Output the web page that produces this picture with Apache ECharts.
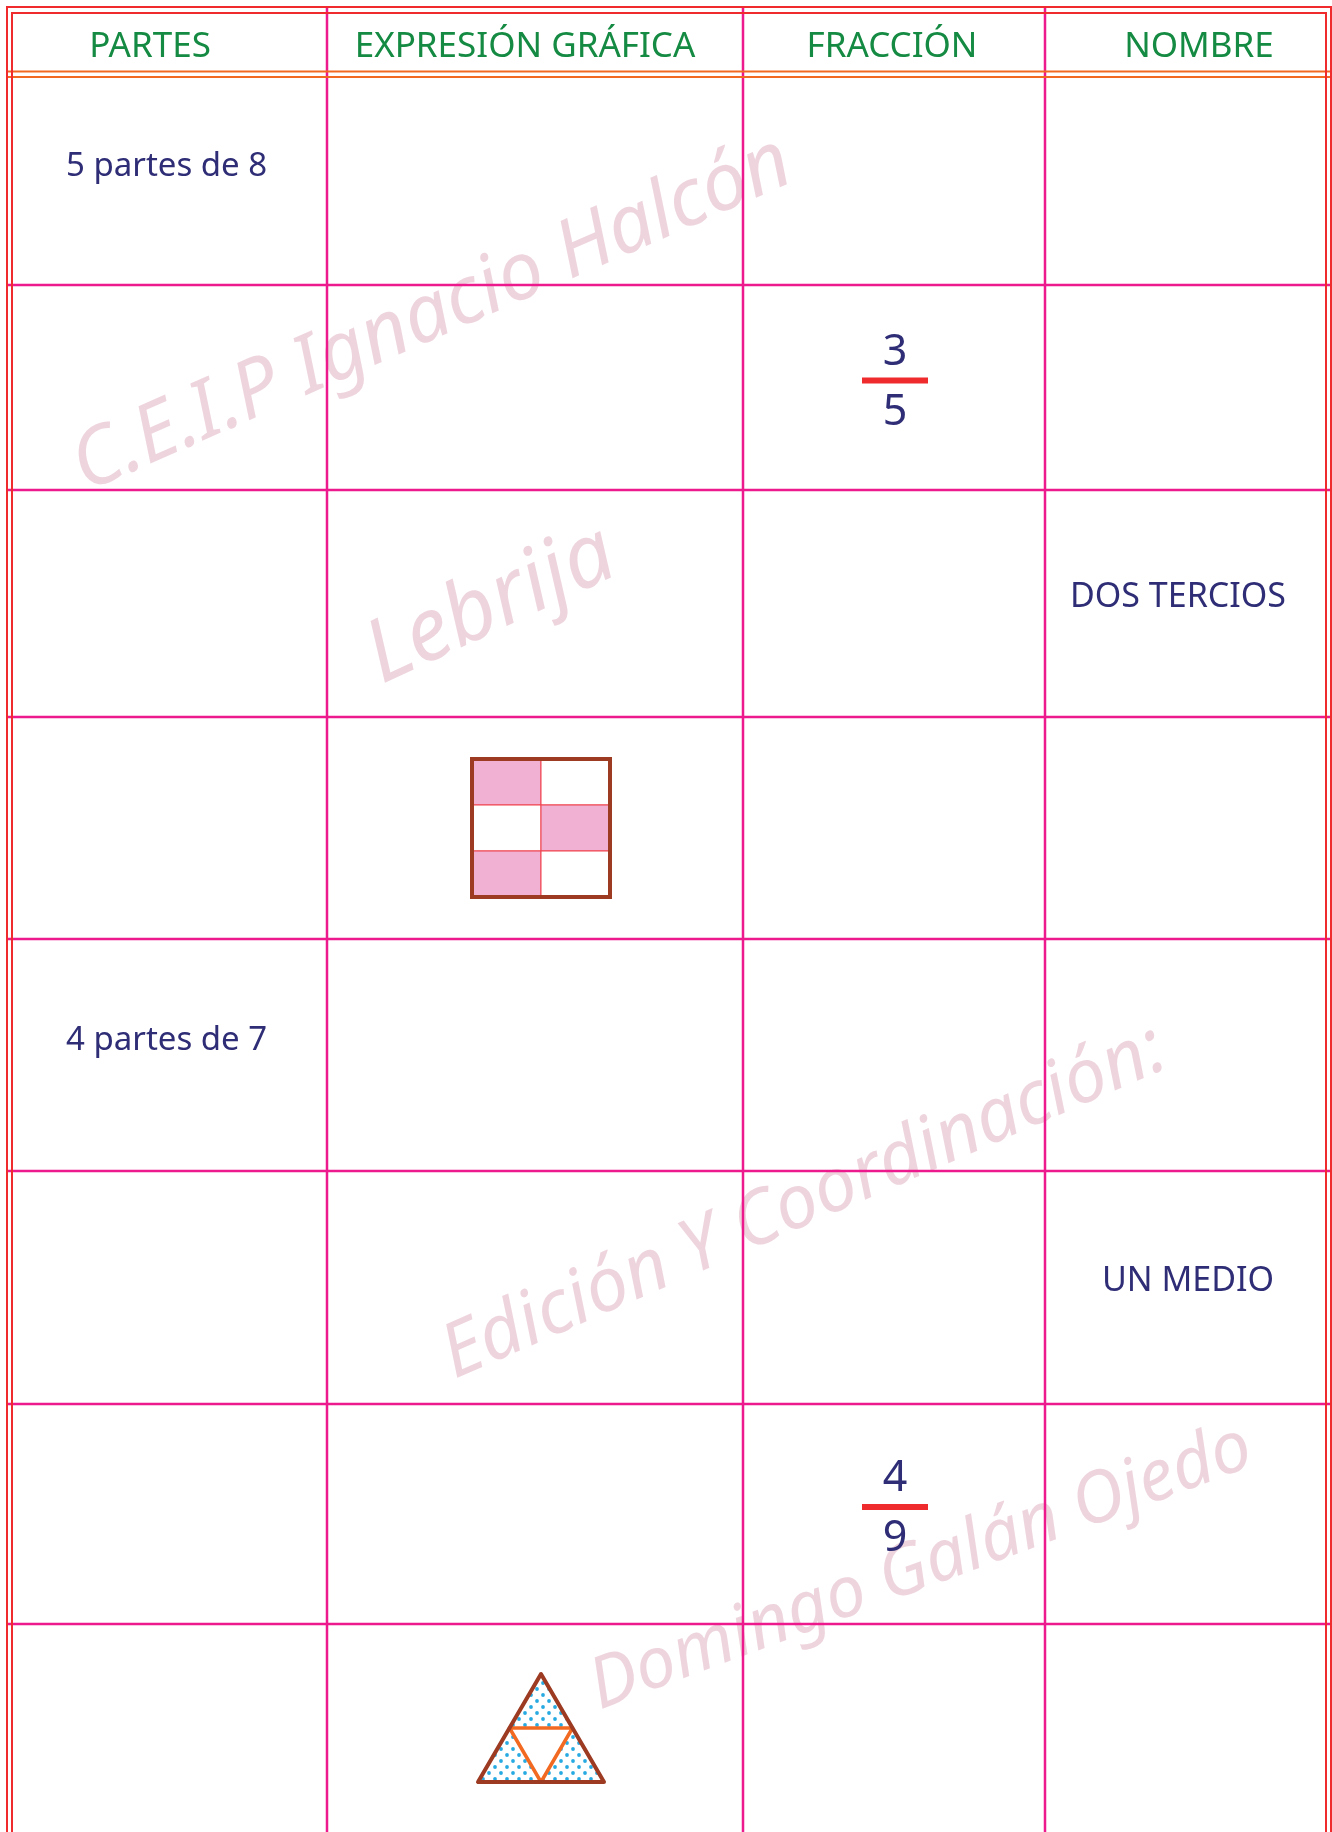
<!DOCTYPE html>
<html><head><meta charset="utf-8">
<script src="https://cdn.jsdelivr.net/npm/echarts@6/dist/echarts.min.js"></script>
<style>html,body{margin:0;padding:0;background:#fff}#c{width:1332px;height:1832px}</style>
</head><body><div id="c"></div>
<script>
// ---- data ----
const columns = ['PARTES', 'EXPRESIÓN GRÁFICA', 'FRACCIÓN', 'NOMBRE'];
const partes = ['5 partes de 8', '', '', '', '4 partes de 7', '', '', ''];
const fracNum = [null, 3, null, null, null, null, 4, null];
const fracDen = [null, 5, null, null, null, null, 9, null];
const nombres = ['', '', 'DOS TERCIOS', '', '', 'UN MEDIO', '', ''];
const figuras = ['', '', '', 'square', '', '', '', 'triangle'];
const squareCells = [[1, 0], [0, 1], [1, 0]];
const watermarks = ['C.E.I.P Ignacio Halcón', 'Lebrija', 'Edición Y Coordinación:', 'Domingo Galán Ojedo'];

// ---- layout (pixels) ----
const W = 1332, H = 1832;
const colEdges = [12, 327, 743, 1045, 1326];
const rowEdges = [77, 285, 490, 717, 939, 1171, 1404, 1624, 1832];
const headerX = [150, 525, 892, 1199];
const headerY = 47;
const nombreX = [0, 0, 1178, 0, 0, 1188, 0, 0];
const wmLayout = [
  {x: 432, y: 315, size: 80, rot: 23.7},
  {x: 491, y: 606, size: 87, rot: 25},
  {x: 804, y: 1203, size: 75, rot: 23.6},
  {x: 921, y: 1568, size: 71, rot: 20.5}
];
const FONT = '"Noto Sans", "DejaVu Sans", sans-serif';
const C_PINK = '#ec1a8c', C_RED = '#ef2b2d', C_ORANGE = '#f26a22', C_GREEN = '#148a42',
      C_NAVY = '#2e2d76', C_WM = '#eed5dd', C_BROWN = '#9c3a22', C_FILL = '#f0b1d2', C_DOT = '#27aae1';

// dotted pattern
const pc = document.createElement('canvas');
pc.width = 12; pc.height = 12;
const pctx = pc.getContext('2d');
pctx.fillStyle = C_DOT;
[[3, 3], [9, 9]].forEach(([a, b]) => { pctx.beginPath(); pctx.arc(a, b, 1.9, 0, Math.PI * 2); pctx.fill(); });

function txt(x, y, text, size, color, align, extra) {
  return Object.assign({
    type: 'text', x: x, y: y,
    style: {text: text, x: 0, y: 0, fill: color, font: size + 'px ' + FONT,
      align: align || 'center', verticalAlign: 'middle', textAlign: align || 'center', textVerticalAlign: 'middle'}
  }, extra || {});
}

function renderItem(params, api) {
  const i = api.value(0);
  const P = (x, y) => api.coord([x, y]);
  const top = rowEdges[i], bot = rowEdges[i + 1], mid = (top + bot) / 2;
  const ch = [];
  if (partes[i]) {
    const p = P(66, mid - 14);
    ch.push(txt(p[0], p[1], partes[i], 33, C_NAVY, 'left'));
  }
  if (nombres[i]) {
    const p = P(nombreX[i], mid - 6);
    ch.push(txt(p[0], p[1], nombres[i], 34, C_NAVY, 'center'));
  }
  if (fracNum[i] != null) {
    const cx = (colEdges[2] + colEdges[3]) / 2 + 1;
    const by = mid - 7;
    const a = P(cx - 33, by), b = P(cx + 33, by);
    ch.push({type: 'line', shape: {x1: a[0], y1: a[1], x2: b[0], y2: b[1]}, style: {stroke: C_RED, lineWidth: 6}});
    const n = P(cx, by - 28), d = P(cx, by + 32);
    ch.push(txt(n[0], n[1], String(fracNum[i]), 43, C_NAVY));
    ch.push(txt(d[0], d[1], String(fracDen[i]), 43, C_NAVY));
  }
  if (figuras[i] === 'square') {
    const s = 138, x0 = 472, y0 = mid - s / 2;
    const cw = s / 2, rh = s / 3;
    squareCells.forEach((row, r) => row.forEach((v, c) => {
      const p = P(x0 + c * cw, y0 + r * rh);
      ch.push({type: 'rect', shape: {x: p[0], y: p[1], width: cw, height: rh},
        style: {fill: v ? C_FILL : '#fff', stroke: '#f0404a', lineWidth: 1}});
    }));
    const p = P(x0, y0);
    ch.push({type: 'rect', shape: {x: p[0], y: p[1], width: s, height: s}, style: {fill: 'none', stroke: C_BROWN, lineWidth: 4}});
  }
  if (figuras[i] === 'triangle') {
    const cx = 541, ty = mid - 54, byy = mid + 54, hw = 63;
    const A = P(cx, ty), B = P(cx - hw, byy), Cc = P(cx + hw, byy);
    const M1 = [(A[0] + B[0]) / 2, (A[1] + B[1]) / 2], M2 = [(A[0] + Cc[0]) / 2, (A[1] + Cc[1]) / 2], M3 = [(B[0] + Cc[0]) / 2, B[1]];
    ch.push({type: 'polygon', shape: {points: [A, B, Cc]}, style: {fill: {image: pc, repeat: 'repeat'}, stroke: 'none'}});
    ch.push({type: 'polygon', shape: {points: [M1, M2, M3]}, style: {fill: '#fff', stroke: C_ORANGE, lineWidth: 3.5, lineJoin: 'round'}});
    ch.push({type: 'polygon', shape: {points: [A, B, Cc]}, style: {fill: 'none', stroke: C_BROWN, lineWidth: 4, lineJoin: 'round'}});
  }
  return {type: 'group', children: ch};
}

// frame & grid lines
const graphics = [];
watermarks.forEach((w, k) => {
  const L = wmLayout[k];
  graphics.push(txt(L.x, L.y, w, L.size, C_WM, 'center', {rotation: L.rot * Math.PI / 180, z: 0,
    style: {text: w, x: 0, y: 0, fill: C_WM, font: 'italic ' + L.size + 'px ' + FONT, align: 'center', verticalAlign: 'middle', textAlign: 'center', textVerticalAlign: 'middle'}}));
});
function ln(x1, y1, x2, y2, color, w) {
  graphics.push({type: 'line', z: 10, shape: {x1, y1, x2, y2}, style: {stroke: color, lineWidth: w}});
}
columns.forEach((c, k) => graphics.push(Object.assign(txt(headerX[k], headerY, c, 35, C_GREEN, 'center'), {z: 5})));
for (let k = 1; k < colEdges.length - 1; k++) ln(colEdges[k], 7, colEdges[k], H, C_PINK, 2.5);
for (let k = 1; k < rowEdges.length - 1; k++) ln(7, rowEdges[k], 1331, rowEdges[k], C_PINK, 2.5);
ln(7, 71.5, W, 71.5, C_ORANGE, 2);
ln(7, 77, W, 77, C_ORANGE, 2);
// double red border
ln(6, 7, 1331, 7, C_RED, 2);
ln(7, 6, 7, H, C_RED, 2);
ln(1331, 6, 1331, H, C_RED, 2);
ln(12, 13, 1326, 13, C_RED, 2);
ln(12, 12, 12, H, C_RED, 2);
ln(1326, 12, 1326, H, C_RED, 2);

const chart = echarts.init(document.getElementById('c'), null, {renderer: 'canvas'});
chart.setOption({
  animation: false,
  backgroundColor: '#fff',
  grid: {left: 0, right: 0, top: 0, bottom: 0},
  xAxis: {type: 'value', min: 0, max: W, show: false},
  yAxis: {type: 'value', min: 0, max: H, inverse: true, show: false},
  series: [{
    type: 'custom', z: 2, clip: false,
    data: partes.map((_, i) => [i, (rowEdges[i] + rowEdges[i + 1]) / 2]),
    renderItem: renderItem
  }],
  graphic: {elements: graphics}
});
</script></body></html>
